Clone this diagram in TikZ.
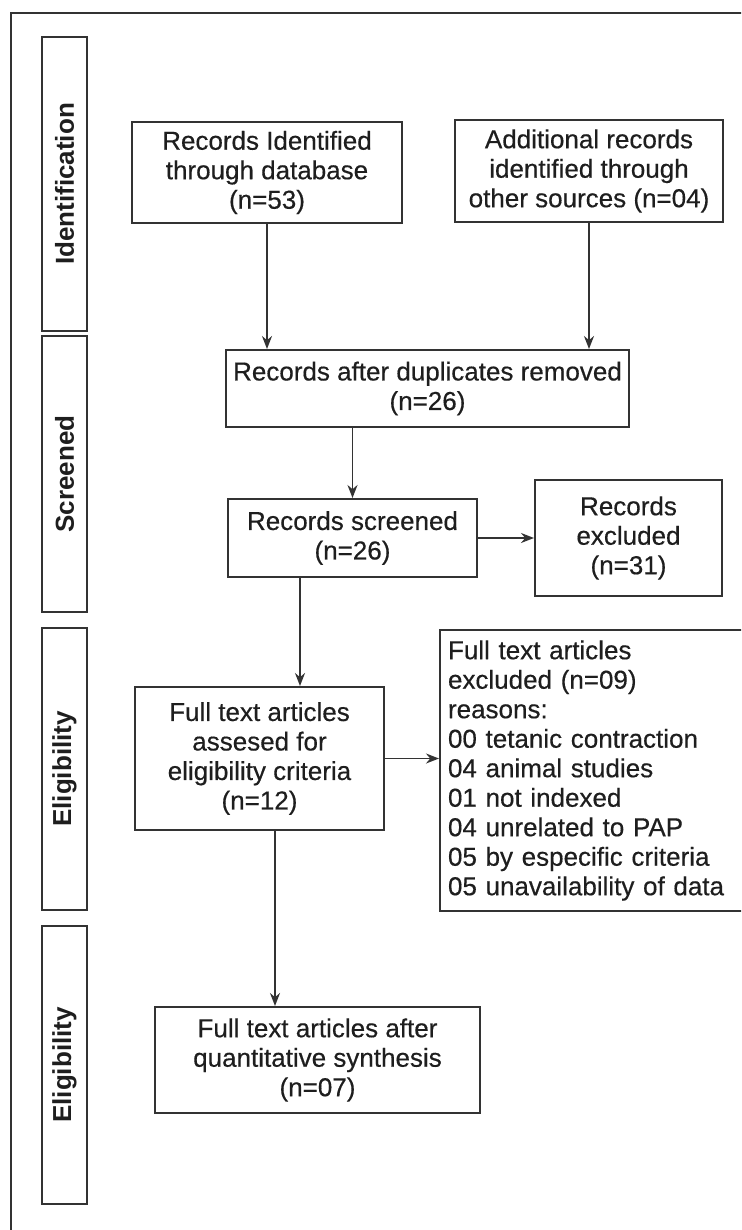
\documentclass[tikz,border=0pt]{standalone}
\usepackage{fontspec}
\setmainfont{Liberation Sans}
\newfontfamily\txtfont{Liberation Sans}[FakeBold=0.4]
\usetikzlibrary{arrows.meta,calc}
\definecolor{ln}{HTML}{333333}
\definecolor{tx}{HTML}{1E1E1E}
\begin{document}
\begin{tikzpicture}[x=1pt,y=-1pt,
  font=\txtfont\fontsize{26}{29.5}\selectfont,
  box/.style={draw=ln, line width=2pt, text=tx, align=center, inner sep=0pt},
  side/.style={draw=ln, line width=2pt, text=tx, rotate=90, inner sep=0pt, minimum height=45pt, font=\fontsize{26}{29.5}\selectfont\bfseries},
  arr/.style={draw=ln, line width=1.7pt, -{Stealth[length=13pt,width=10pt]}}
]
\useasboundingbox (0,0) rectangle (741,1230);
\clip (0,0) rectangle (741,1230);
\fill[white] (0,0) rectangle (741,1230);
% outer frame
\draw[ln, line width=2.4pt] (11,1240) -- (11,13) -- (760,13);

% stage sidebars
\node[side, minimum width=293pt] (sid) at (64.5,184) {Identification};
\node[side, minimum width=276pt] (sscr) at (64.5,474) {Screened};
\node[side, minimum width=282pt] (sel1) at (64.5,769) {Eligibility};
\node[side, minimum width=278pt] (sel2) at (64.5,1065) {Eligibility};

% boxes
\node[box, minimum width=270pt, minimum height=101pt] (id1) at (267,172.5)
  {Records Identified\\through database\\(n=53)};
\node[box, minimum width=268pt, minimum height=102pt] (id2) at (589,171)
  {Additional records\\identified through\\other sources (n=04)};
\node[box, minimum width=403pt, minimum height=77pt] (dup) at (427.5,388.5)
  {Records after duplicates removed\\(n=26)};
\node[box, minimum width=249pt, minimum height=78pt] (scr) at (352.5,538)
  {Records screened\\(n=26)};
\node[box, minimum width=187pt, minimum height=116pt] (exc) at (628.5,538)
  {Records\\excluded\\(n=31)};
\node[box, minimum width=249pt, minimum height=143pt] (full) at (259.5,758.5)
  {Full text articles\\assesed for\\eligibility criteria\\(n=12)};
\node[box, align=left, inner xsep=8pt, text width=294pt, minimum height=281pt] (fexc) at (595,770.5)
  {Full text articles\\excluded (n=09)\\reasons:\\00 tetanic contraction\\04 animal studies\\01 not indexed\\04 unrelated to PAP\\05 by especific criteria\\05 unavailability of data};
\node[box, minimum width=325pt, minimum height=106pt] (syn) at (317.5,1060)
  {Full text articles after\\quantitative synthesis\\(n=07)};

% connectors
\draw[arr] (id1.south) -- (id1.south |- dup.north);
\draw[arr] (id2.south) -- (id2.south |- dup.north);
\draw[arr] (scr.north |- dup.south) -- (scr.north);
\draw[arr] (scr.east) -- (exc.west);
\draw[arr] ([xshift=-52.5pt]scr.south) -- ([xshift=-52.5pt]scr.south |- full.north);
\draw[arr] (full.east) -- (full.east -| fexc.west);
\draw[arr] ([xshift=15.5pt]full.south) -- ([xshift=15.5pt]full.south |- syn.north);
\end{tikzpicture}
\end{document}
